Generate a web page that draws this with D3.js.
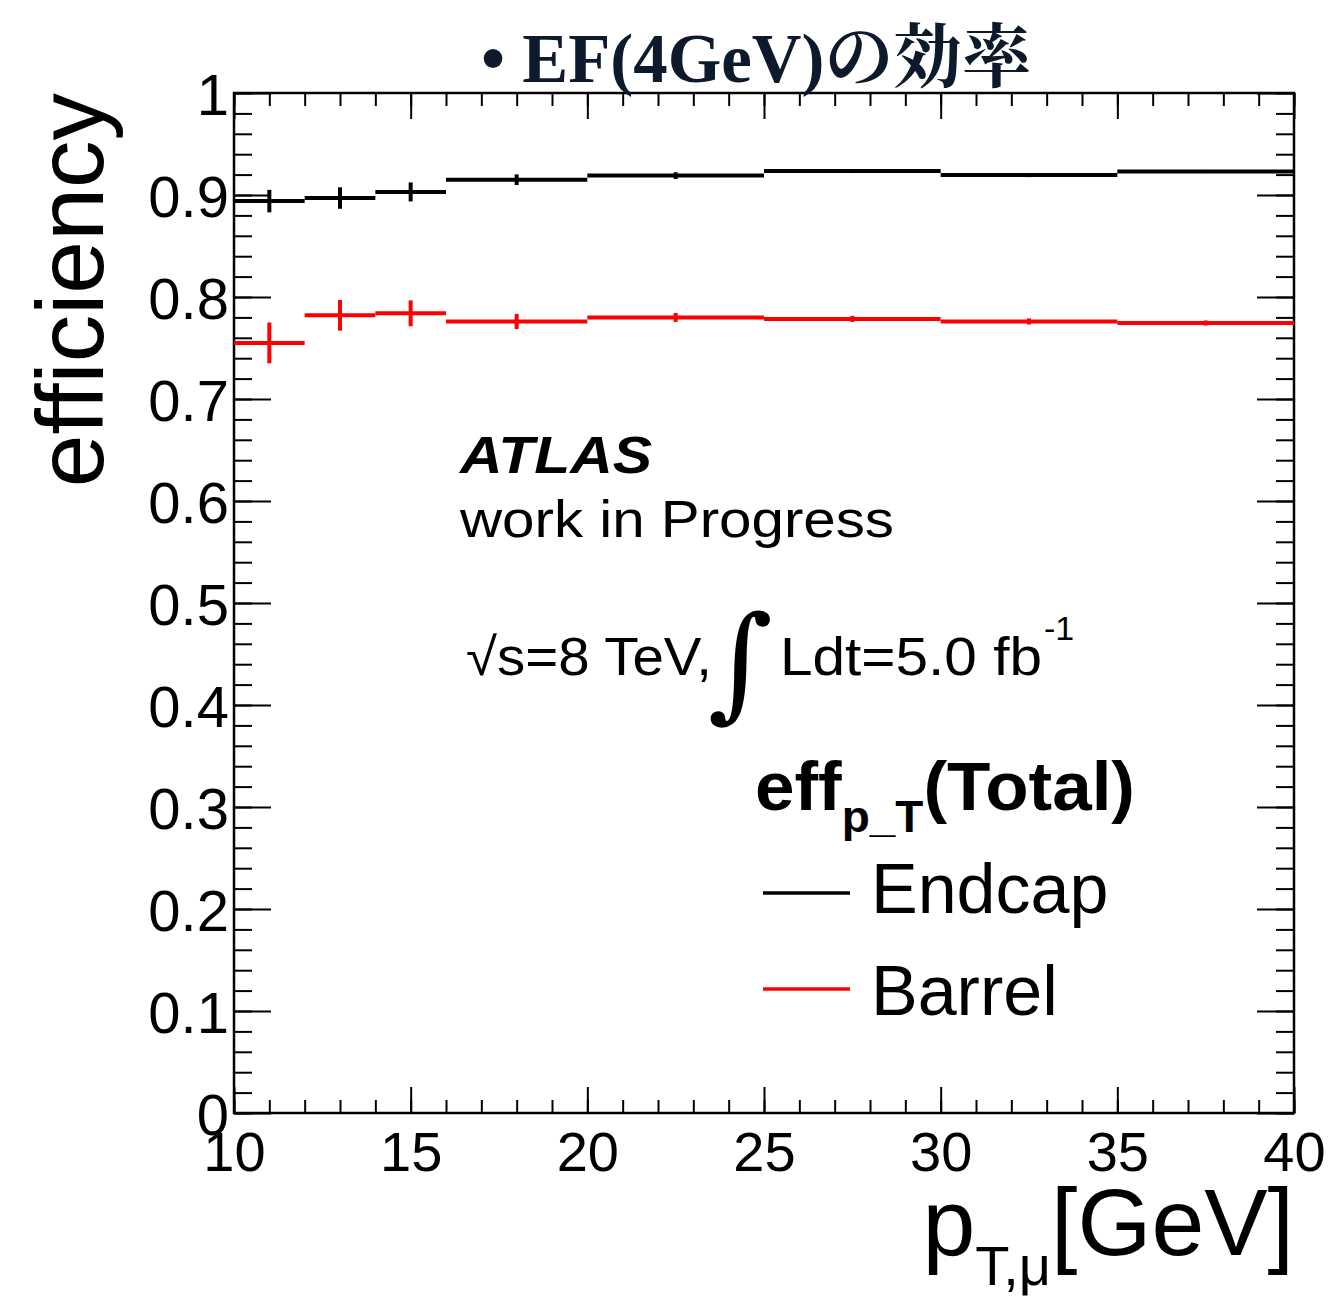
<!DOCTYPE html>
<html>
<head>
<meta charset="utf-8">
<script src="https://cdn.jsdelivr.net/npm/d3@7"></script>
<style>
  body { margin: 0; background: #fff; }
  text { font-family: "Liberation Sans", Arial, sans-serif; fill: #000; }
</style>
</head>
<body>
<div id="chart-area"></div>
<script>
var w = 1331;
var h = 1299;

// bins in pT [GeV]
var binLow  = [10, 12, 14, 16, 20, 25, 30, 35];
var binHigh = [12, 14, 16, 20, 25, 30, 35, 40];

// efficiency values
var endcapEff = [0.894, 0.897, 0.903, 0.915, 0.919, 0.9235, 0.9195, 0.923];
var endcapErr = [0.011, 0.0105, 0.0093, 0.0052, 0.0033, 0.002, 0.002, 0.0015];
var barrelEff = [0.755, 0.782, 0.784, 0.776, 0.780, 0.7785, 0.776, 0.7745];
var barrelErr = [0.020, 0.015, 0.0127, 0.0074, 0.0044, 0.003, 0.003, 0.0025];

var xTicks = [10, 15, 20, 25, 30, 35, 40];
var yTicks = [0, 0.1, 0.2, 0.3, 0.4, 0.5, 0.6, 0.7, 0.8, 0.9, 1];

var series = [
  {name: "Endcap", color: "#000000", eff: endcapEff, err: endcapErr},
  {name: "Barrel", color: "#ff0000", eff: barrelEff, err: barrelErr}
];

var svg = d3.select('#chart-area').append('svg')
    .attr('width', w)
    .attr('height', h);
svg.append('rect').attr('width', w).attr('height', h).attr('fill', '#fff');

var x = d3.scaleLinear().domain([10, 40]).range([234, 1294]);
var y = d3.scaleLinear().domain([0, 1]).range([1113, 93]);

var xMinor = d3.range(10, 40.01, 1);
var yMinor = d3.range(0, 1.001, 0.02);
var fmt = d3.format("~g");

function styleAxis(g) {
  g.select('.domain').remove();
  g.selectAll('line').attr('stroke', '#000').attr('stroke-width', 2);
}

// minor ticks on all four sides
svg.append('g').attr('transform', 'translate(0,1113)')
   .call(d3.axisBottom(x).tickValues(xMinor).tickSizeInner(-13).tickSizeOuter(0).tickFormat(''))
   .call(styleAxis);
svg.append('g').attr('transform', 'translate(0,93)')
   .call(d3.axisTop(x).tickValues(xMinor).tickSizeInner(-13).tickSizeOuter(0).tickFormat(''))
   .call(styleAxis);
svg.append('g').attr('transform', 'translate(234,0)')
   .call(d3.axisLeft(y).tickValues(yMinor).tickSizeInner(-18).tickSizeOuter(0).tickFormat(''))
   .call(styleAxis);
svg.append('g').attr('transform', 'translate(1294,0)')
   .call(d3.axisRight(y).tickValues(yMinor).tickSizeInner(-18).tickSizeOuter(0).tickFormat(''))
   .call(styleAxis);

// major ticks + labels
var xAxis = svg.append('g').attr('transform', 'translate(0,1113)')
   .call(d3.axisBottom(x).tickValues(xTicks).tickSizeInner(-26).tickSizeOuter(0).tickPadding(18).tickFormat(fmt))
   .call(styleAxis);
xAxis.selectAll('text').attr('font-size', 56).attr('font-family', '"Liberation Sans", Arial, sans-serif').attr('fill', '#000');

svg.append('g').attr('transform', 'translate(0,93)')
   .call(d3.axisTop(x).tickValues(xTicks).tickSizeInner(-26).tickSizeOuter(0).tickFormat(''))
   .call(styleAxis);

var yAxis = svg.append('g').attr('transform', 'translate(234,0)')
   .call(d3.axisLeft(y).tickValues(yTicks).tickSizeInner(-37).tickSizeOuter(0).tickPadding(5).tickFormat(fmt))
   .call(styleAxis);
yAxis.selectAll('text').attr('font-size', 58).attr('dy', '0.37em')
   .attr('font-family', '"Liberation Sans", Arial, sans-serif').attr('fill', '#000');

svg.append('g').attr('transform', 'translate(1294,0)')
   .call(d3.axisRight(y).tickValues(yTicks).tickSizeInner(-37).tickSizeOuter(0).tickFormat(''))
   .call(styleAxis);

// frame
svg.append('rect')
   .attr('x', x(10)).attr('y', y(1))
   .attr('width', x(40) - x(10)).attr('height', y(0) - y(1))
   .attr('fill', 'none').attr('stroke', '#000').attr('stroke-width', 2.5);

// histogram markers: horizontal bin width + vertical error bar
series.forEach(function(s) {
  var g = svg.append('g');
  var idx = d3.range(binLow.length);
  g.selectAll('line.hbar').data(idx).enter().append('line')
    .attr('x1', i => x(binLow[i])).attr('x2', i => x(binHigh[i]))
    .attr('y1', i => y(s.eff[i])).attr('y2', i => y(s.eff[i]))
    .attr('stroke', s.color).attr('stroke-width', 4);
  g.selectAll('line.vbar').data(idx).enter().append('line')
    .attr('x1', i => x((binLow[i] + binHigh[i]) / 2)).attr('x2', i => x((binLow[i] + binHigh[i]) / 2))
    .attr('y1', i => y(s.eff[i] - s.err[i])).attr('y2', i => y(s.eff[i] + s.err[i]))
    .attr('stroke', s.color).attr('stroke-width', 4);
});

// title
svg.append('text')
   .attr('x', 481).attr('y', 82)
   .attr('font-size', 70)
   .attr('font-weight', 'bold')
   .attr('textLength', 550)
   .attr('lengthAdjust', 'spacingAndGlyphs')
   .style('font-family', '"Liberation Serif", "Noto Serif CJK JP", "Noto Sans CJK JP", serif')
   .style('fill', '#0d1a2b')
   .text("• EF(4GeV)の効率");

// y axis title
svg.append('text')
   .attr('transform', 'translate(103,93) rotate(-90)')
   .attr('text-anchor', 'end')
   .attr('font-size', 95)
   .text("efficiency");

// x axis title
var xt = svg.append('text')
   .attr('x', 1294).attr('y', 1255)
   .attr('text-anchor', 'end')
   .attr('font-size', 95);
xt.append('tspan').text("p");
xt.append('tspan').attr('font-size', 56).attr('dy', 30).text("T,μ");
xt.append('tspan').attr('dy', -30).text("[GeV]");

// ATLAS label
svg.append('text')
   .attr('x', 460).attr('y', 473)
   .attr('font-size', 52).attr('font-weight', 'bold').attr('font-style', 'italic')
   .attr('textLength', 192).attr('lengthAdjust', 'spacingAndGlyphs')
   .text("ATLAS");
svg.append('text')
   .attr('x', 460).attr('y', 537)
   .attr('font-size', 52)
   .attr('textLength', 434).attr('lengthAdjust', 'spacingAndGlyphs')
   .text("work in Progress");

// energy / lumi
svg.append('text')
   .attr('x', 466).attr('y', 675)
   .attr('font-size', 53)
   .attr('textLength', 246).attr('lengthAdjust', 'spacingAndGlyphs')
   .text("√s=8 TeV,");
svg.append('text')
   .attr('x', 708).attr('y', 705)
   .attr('font-size', 125)
   .style('font-family', '"DejaVu Serif", serif')
   .text("∫");
svg.append('text')
   .attr('x', 780).attr('y', 675)
   .attr('font-size', 53)
   .attr('textLength', 262).attr('lengthAdjust', 'spacingAndGlyphs')
   .text("Ldt=5.0 fb");
svg.append('text')
   .attr('x', 1044).attr('y', 640)
   .attr('font-size', 34)
   .text("-1");

// legend
var lt = svg.append('text')
   .attr('x', 755).attr('y', 810)
   .attr('font-size', 68).attr('font-weight', 'bold')
   .attr('textLength', 380).attr('lengthAdjust', 'spacingAndGlyphs');
lt.append('tspan').text("eff");
lt.append('tspan').attr('font-size', 44).attr('dy', 22).text("p_T");
lt.append('tspan').attr('dy', -22).text("(Total)");

var legY = [893, 989];
var legTextY = [913, 1015];
series.forEach(function(s, i) {
  svg.append('line')
     .attr('x1', 763).attr('x2', 850)
     .attr('y1', legY[i]).attr('y2', legY[i])
     .attr('stroke', s.color).attr('stroke-width', 3.5);
  svg.append('text')
     .attr('x', 871).attr('y', legTextY[i])
     .attr('font-size', 70)
     .text(s.name);
});
</script>
</body>
</html>
